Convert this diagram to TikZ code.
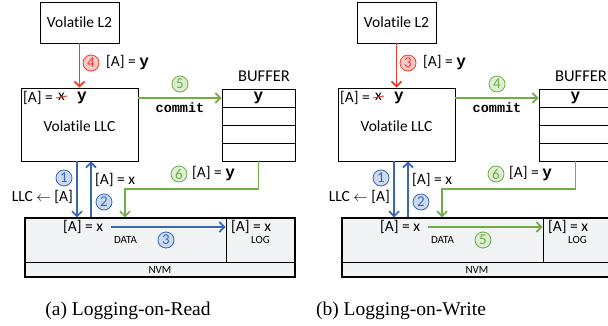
\documentclass[tikz,border=0pt]{standalone}
\usepackage{fontspec}
\setmainfont{Liberation Serif}
\setsansfont{Carlito}[Ligatures=NoCommon]
\setmonofont{Liberation Mono}
\usetikzlibrary{arrows.meta}
\definecolor{cred}{HTML}{EE3B2E}
\definecolor{credl}{HTML}{F9CACA}
\definecolor{cgreen}{HTML}{70AD47}
\definecolor{cgreenl}{HTML}{DDEFD2}
\definecolor{cblue}{HTML}{3A66B8}
\definecolor{cbluel}{HTML}{CCDAF0}
\definecolor{nvmgray}{HTML}{F2F3F5}
\tikzset{
  box/.style={draw, line width=0.9pt, inner sep=0pt,
    font=\sffamily\fontsize{15.5}{15.5}\selectfont
  },
  small/.style={draw, line width=0.9pt, inner sep=0pt,
    font=\sffamily\fontsize{11}{11}\selectfont
  },
  num/.style={circle, draw=#1, fill=#1l, text=#1, minimum size=16pt, inner sep=0pt,
    line width=0.8pt, font=\sffamily\fontsize{15}{15}\selectfont
  },
  lbl/.style={inner sep=0pt, font=\sffamily\fontsize{15.5}{15.5}\selectfont},
  arr/.style={line width=1.7pt, draw=#1, -{Straight Barb[length=5pt,width=10pt]}}
}
\newcommand{\yb}{{\ttfamily\bfseries\fontsize{16}{16}\selectfont y}}

\begin{document}
\begin{tikzpicture}[x=1pt, y=-1pt]
  \useasboundingbox (0,0) rectangle (608,325);
  \clip (0,0) rectangle (608,325);
  \foreach \dx/\nl/\nc/\nn/\ac in {0/4/5/3/cblue, 317/3/4/5/cgreen} {
  \begin{scope}[xshift=\dx pt]
    % caches
    \node[box, minimum width=79pt, minimum height=41pt] (l2) at (79.5,22.5) {Volatile L2};
    \node[box, minimum width=117pt, minimum height=73pt] (llc) at (79.5,124.5) {};
    \node[lbl] (llctxt) at (79.5,126) {Volatile LLC};
    \node[lbl, anchor=west] (old) at (23,98) {[A] =};
    \node[lbl] (xo) at (61.5,97) {x};
    \node[lbl] (ynew) at (82,98) {\yb};
    \draw[cred, line width=1pt] ([xshift=-2pt,yshift=-1pt]xo.west) -- ([xshift=2pt,yshift=1pt]xo.east);

    % buffer
    \foreach \i in {1,...,4}
      \node[box, minimum width=73pt, minimum height=18pt] (b\i) at (258.5,80+18*\i) {};
    \node[lbl] (by) at (b1) {\yb};
    \node[lbl, font=\sffamily\fontsize{16.5}{16.5}\selectfont] (buf) at (264,76) {BUFFER};

    % nvm
    \node[draw, fill=nvmgray, line width=1.2pt, minimum width=270pt, minimum height=59pt] (nvm) at (160,247.5) {};
    \node[small, minimum width=201pt, minimum height=44pt] (data) at (125.5,240) {DATA};
    \node[small, minimum width=69pt, minimum height=44pt] (log) at (260.5,240) {LOG};
    \node[small, minimum width=270pt, minimum height=15pt] (bar) at (160,269.5) {NVM};
    \node[lbl] (dval) at (83,227) {[A] = x};
    \node[lbl] (lval) at (251,227) {[A] = x};

    % arrows
    \draw[arr=cred] (l2) -- (llc);
    \node[num=cred] (c1) at (91,63) {\nl};
    \node[lbl, anchor=west] (l2val) at (106,63) {[A] = \yb};

    \draw[arr=cgreen] (llc.east |- b1) -- (b1.west);
    \node[num=cgreen] (c2) at (180,84) {\nc};
    \node[inner sep=0pt, font=\ttfamily\bfseries\fontsize{13.5}{13.5}\selectfont] (cmt) at (180,108) {commit};

    \draw[arr=cblue] ([xshift=-2.5pt]llc.south) -- ([xshift=-2.5pt]llc.south |- nvm.north);
    \draw[arr=cblue] ([xshift=11.5pt]llc.south |- nvm.north) -- ([xshift=11.5pt]llc.south);
    \node[num=cblue] (c3) at (64,178) {1};
    \node[lbl, anchor=east] (fill) at (73,197) {LLC $\leftarrow$ [A]};
    \node[num=cblue] (c4) at (104,202) {2};
    \node[lbl, anchor=west] (rd) at (95,180) {[A] = x};

    \coordinate (bend) at (125,189);
    \draw[arr=cgreen] (b4.south) |- (bend) -- (bend |- nvm.north);
    \node[num=cgreen] (c5) at (179,174) {6};
    \node[lbl, anchor=west] (wb) at (192,174) {[A] = \yb};

    \draw[arr=\ac] ([xshift=8pt]dval.east) -- (dval.east -| log.west);
    \node[num=\ac] (c6) at (166,240) {\nn};
  \end{scope}}

  \node[font=\fontsize{19.5}{19.5}\selectfont] (capa) at (128,311) {(a) Logging-on-Read};
  \node[font=\fontsize{19.5}{19.5}\selectfont] (capb) at (401,311) {(b) Logging-on-Write};
\end{tikzpicture}
\end{document}
